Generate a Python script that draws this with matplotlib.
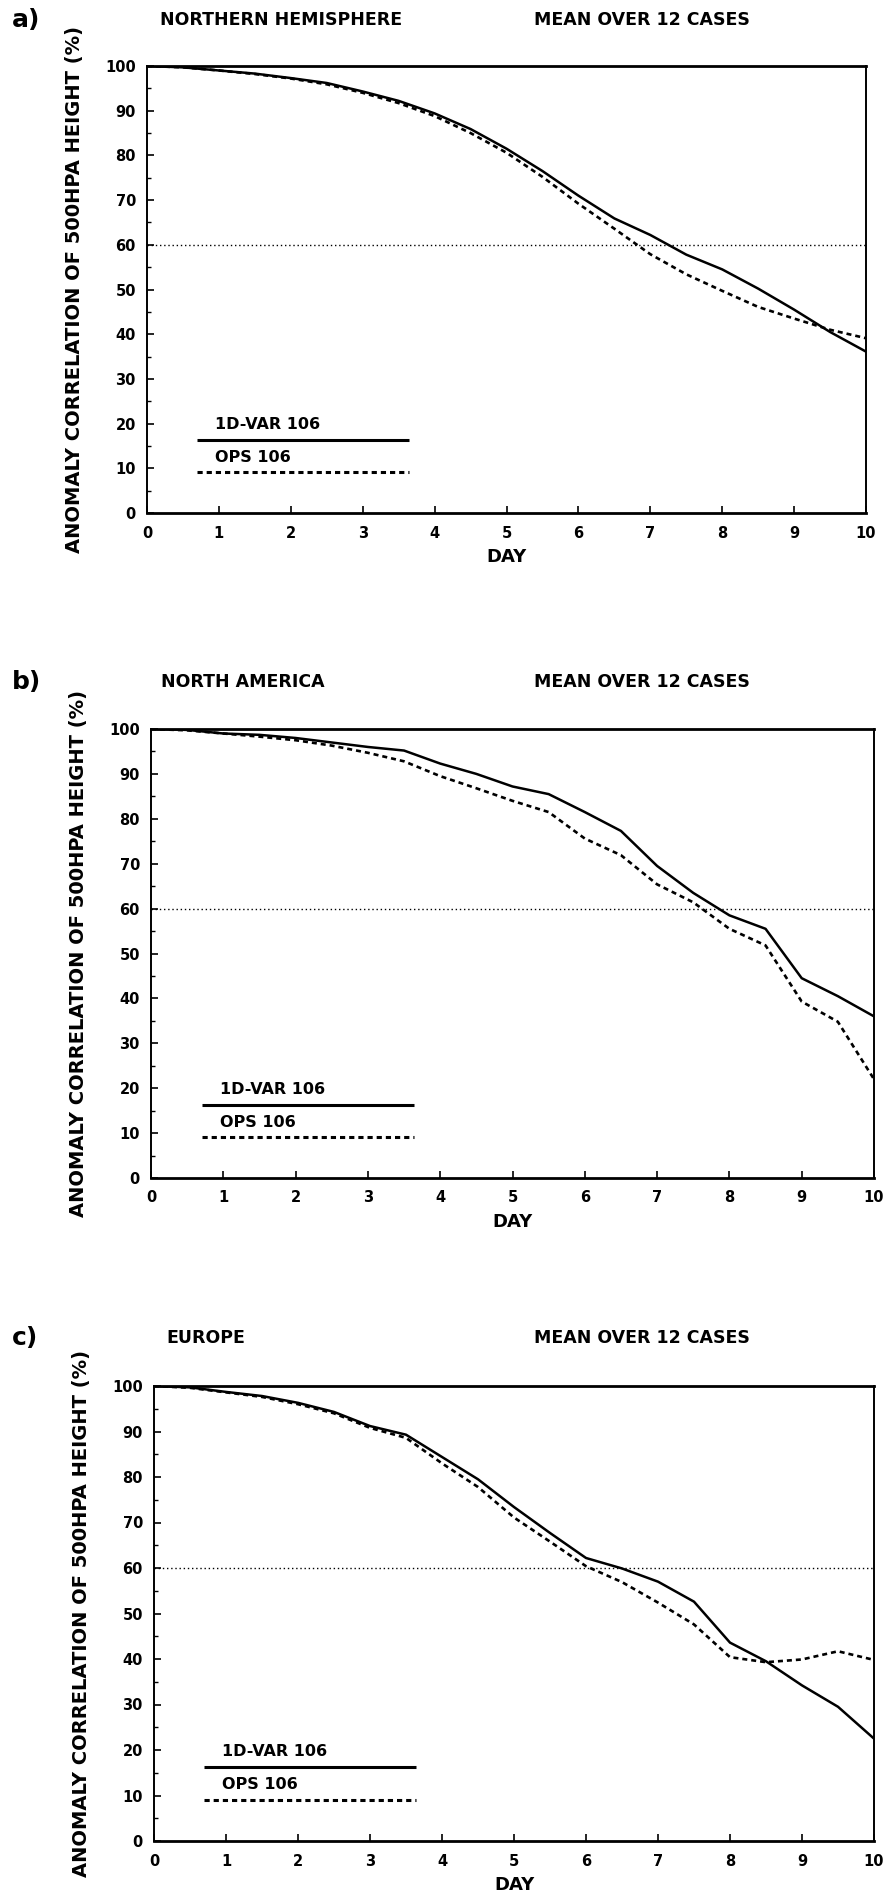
import matplotlib
matplotlib.use("Agg")
import matplotlib.pyplot as plt

plt.rcParams['font.family'] = ['DejaVu Sans']
plt.rcParams['font.weight'] = 'bold'

# donnees (jours 0..10 par pas de 0.5)
days = [0, 0.5, 1, 1.5, 2, 2.5, 3, 3.5, 4, 4.5, 5,
        5.5, 6, 6.5, 7, 7.5, 8, 8.5, 9, 9.5, 10]

series_names = ["1D-VAR 106", "OPS 106"]
regions = ["NORTHERN HEMISPHERE", "NORTH AMERICA", "EUROPE"]
panel_tags = ["a)", "b)", "c)"]
subtitle = "MEAN OVER 12 CASES"

nh_1dvar = [100, 99.7, 99, 98.3, 97.3, 96.2, 94.3, 92.2, 89.4, 85.9, 81.5,
            76.5, 71, 65.9, 62.2, 57.8, 54.5, 50.2, 45.5, 40.5, 36.1]
nh_ops = [100, 99.7, 99, 98.2, 97.2, 95.9, 94, 91.7, 88.8, 85, 80.6,
          75.2, 69.2, 63.6, 57.9, 53.4, 49.7, 46.1, 43.5, 41.0, 39.1]

na_1dvar = [100, 99.8, 99, 98.7, 98, 97, 96, 95.2, 92.3, 90, 87.2,
            85.5, 81.5, 77.3, 69.5, 63.5, 58.5, 55.5, 44.5, 40.5, 36]
na_ops = [100, 99.7, 99, 98.3, 97.5, 96.3, 94.7, 92.8, 89.5, 86.8, 84,
          81.5, 75.6, 71.9, 65.4, 61.4, 55.5, 51.8, 39.3, 34.8, 22]

eu_1dvar = [100, 99.7, 98.7, 97.8, 96.3, 94.3, 91.2, 89.3, 84.4, 79.5, 73.4,
            67.7, 62.2, 59.9, 57, 52.6, 43.6, 39.5, 34.2, 29.5, 22.5]
eu_ops = [100, 99.6, 98.6, 97.6, 96, 94, 90.8, 88.6, 83, 77.8, 71.1,
          65.8, 60.4, 56.9, 52.4, 47.6, 40.4, 39.3, 39.9, 41.7, 39.8]

ref_level = 60

all_1dvar = [nh_1dvar, na_1dvar, eu_1dvar]
all_ops = [nh_ops, na_ops, eu_ops]

W, H = 886, 1891
fig = plt.figure(figsize=(W / 100, H / 100), dpi=100)

# position des axes en pixels : gauche, haut, droite, bas
boxes = [(147, 66, 866, 513), (151, 729, 874, 1178), (154, 1386, 874, 1841)]
title_y = [20, 682, 1338]
title_x = [160, 161, 166]

for i in range(3):
    l, t, r, b = boxes[i]
    ax = fig.add_axes([l / W, 1 - b / H, (r - l) / W, (b - t) / H])

    ax.plot(days, all_1dvar[i], color='black', lw=1.8, solid_joinstyle='round')
    ax.plot(days, all_ops[i], color='black', lw=1.9, dashes=(1.9, 1.5))
    ax.axhline(ref_level, color='black', lw=1.0, linestyle=(0, (1, 2)))

    ax.set_xlim(0, 10)
    ax.set_ylim(0, 100)
    ax.set_xticks(range(0, 11))
    ax.set_yticks(range(0, 101, 10))
    ax.set_yticks(range(5, 100, 10), minor=True)
    ax.tick_params(axis='both', which='major', direction='in', length=5,
                   width=1.2, labelsize=10.5)
    ax.tick_params(axis='y', which='minor', direction='in', length=3, width=1.0)
    ax.tick_params(axis='y', pad=8)
    ax.tick_params(axis='x', pad=9)
    for lab in ax.get_xticklabels() + ax.get_yticklabels():
        lab.set_fontweight('bold')

    ax.spines['top'].set_linewidth(2.0)
    ax.spines['bottom'].set_linewidth(2.0)
    ax.spines['left'].set_linewidth(1.4)
    ax.spines['right'].set_linewidth(1.4)

    ax.set_xlabel("DAY", fontsize=13, fontweight='bold')
    ax.xaxis.set_label_coords(0.5, -0.078)
    ax.set_ylabel("ANOMALY CORRELATION OF 500HPA HEIGHT (%)", fontsize=14,
                  fontweight='bold')
    ax.yaxis.set_label_coords(-0.087, 0.5)

    # legende dessinee a la main (texte au-dessus du trait)
    ax.plot([0.07, 0.364], [0.163, 0.163], transform=ax.transAxes,
            color='black', lw=2.2, solid_capstyle='butt')
    ax.plot([0.07, 0.364], [0.091, 0.091], transform=ax.transAxes,
            color='black', lw=2.2, dashes=(1.7, 1.3))
    ax.text(0.095, 0.197, series_names[0], transform=ax.transAxes,
            fontsize=11.5, fontweight='bold', va='center', ha='left')
    ax.text(0.095, 0.124, series_names[1], transform=ax.transAxes,
            fontsize=11.5, fontweight='bold', va='center', ha='left')

    fig.text(12 / W, 1 - title_y[i] / H, panel_tags[i], fontsize=18,
             fontweight='bold', va='center', ha='left')
    fig.text(title_x[i] / W, 1 - title_y[i] / H, regions[i], fontsize=12.5,
             fontweight='bold', va='center', ha='left')
    fig.text(534 / W, 1 - title_y[i] / H, subtitle, fontsize=12.5,
             fontweight='bold', va='center', ha='left')

fig.savefig("out.png", dpi=100)
